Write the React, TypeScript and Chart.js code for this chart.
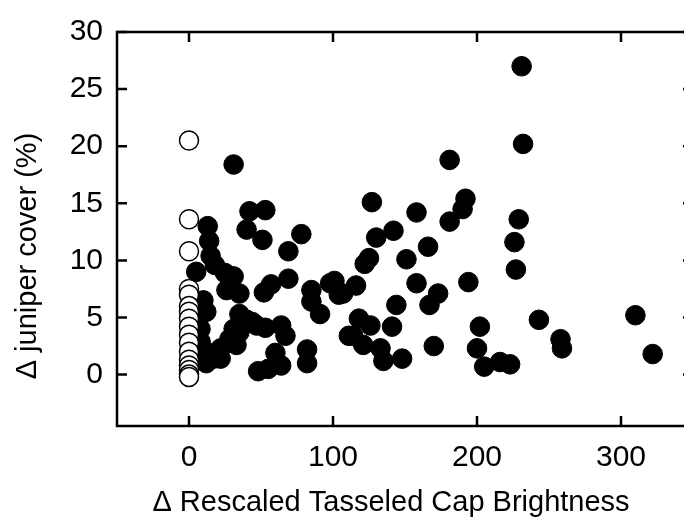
import React, { useEffect, useRef } from 'react';
import { Chart, registerables } from 'chart.js';

Chart.register(...registerables);

const xTickValues = [0, 100, 200, 300];
const yTickValues = [0, 5, 10, 15, 20, 25, 30];
const xTitle = 'Δ Rescaled Tasseled Cap Brightness';
const yTitle = 'Δ juniper cover (%)';

// open circles: no brightness change
const unchangedX = [0, 0, 0, 0, 0, 0, 0, 0, 0, 0, 0, 0, 0, 0, 0, 0, 0];
const unchangedY = [20.5, 13.6, 10.8, 7.5, 7.0, 6.0, 5.5, 4.9, 4.2, 3.5, 2.8, 2.0, 1.3, 0.8, 0.4, 0.0, -0.2];

// filled circles
const changedX = [
  5, 13, 14, 15, 18, 25, 31, 26, 35, 10, 12, 8, 8, 12, 11, 17, 22, 22, 28, 31, 33, 35, 35, 40, 44, 47, 53, 52, 57, 48, 55, 31, 42, 53, 40, 51,
  64, 67, 60, 64, 69, 69, 78, 82, 82, 85, 85, 91, 98, 101, 104, 107, 111, 114, 116, 118, 121, 122, 125, 126, 127, 130, 133, 135, 141, 142, 144, 148,
  151, 158, 158, 166, 167, 170, 173, 181, 181, 190, 192, 194, 200, 202, 205, 216, 223, 226, 227, 229, 231, 232, 243, 258, 259, 310, 322,
];
const changedY = [
  9.0, 13.0, 11.7, 10.4, 9.6, 8.9, 8.6, 7.4, 7.1, 6.5, 5.5, 4.0, 2.9, 1.0, 2.1, 1.4, 1.4, 2.3, 3.1, 4.0, 2.6, 3.7, 5.3, 4.8, 4.6, 4.3, 4.1, 7.2, 7.9, 0.3, 0.5, 18.4, 14.3, 14.4, 12.7, 11.8,
  4.3, 3.4, 1.9, 0.8, 8.4, 10.8, 12.3, 2.2, 1.0, 7.4, 6.4, 5.3, 8.0, 8.2, 7.0, 7.1, 3.4, 3.4, 7.8, 4.9, 2.6, 9.7, 10.2, 4.3, 15.1, 12.0, 2.3, 1.2, 4.2, 12.6, 6.1, 1.4,
  10.1, 14.2, 8.0, 11.2, 6.1, 2.5, 7.1, 13.4, 18.8, 14.5, 15.4, 8.1, 2.3, 4.2, 0.7, 1.1, 0.9, 11.6, 9.2, 13.6, 27.0, 20.2, 4.8, 3.1, 2.3, 5.2, 1.8,
];

const FONT = '"Liberation Sans", Arial, Helvetica, sans-serif';

const framePlugin = {
  id: 'frame',
  afterDraw(chart: any) {
    const { ctx, chartArea: a, scales } = chart;
    const xs = scales.x;
    const ys = scales.y;
    ctx.save();
    ctx.strokeStyle = '#000';
    ctx.lineWidth = 2.5;
    ctx.strokeRect(a.left, a.top, a.right - a.left, a.bottom - a.top);
    const L = 10;
    ctx.beginPath();
    xTickValues.forEach((v) => {
      const px = xs.getPixelForValue(v);
      ctx.moveTo(px, a.bottom);
      ctx.lineTo(px, a.bottom - L);
      ctx.moveTo(px, a.top);
      ctx.lineTo(px, a.top + L);
    });
    yTickValues.forEach((v) => {
      const py = ys.getPixelForValue(v);
      ctx.moveTo(a.left, py);
      ctx.lineTo(a.left + L, py);
      ctx.moveTo(a.right, py);
      ctx.lineTo(a.right - L, py);
    });
    ctx.stroke();

    ctx.fillStyle = '#000';
    ctx.font = '29px ' + FONT;
    ctx.textAlign = 'center';
    ctx.textBaseline = 'middle';
    ctx.fillText(xTitle, a.left + 274, a.bottom + 77);
    ctx.translate(28, a.top + 224);
    ctx.rotate(-Math.PI / 2);
    ctx.fillText(yTitle, 0, 0);
    ctx.restore();
  },
};

export default function App() {
  const ref = useRef<HTMLCanvasElement | null>(null);

  useEffect(() => {
    if (!ref.current) return;
    const chart = new Chart(ref.current, {
      type: 'scatter',
      data: {
        datasets: [
          {
            label: 'unchanged',
            data: unchangedX.map((x, i) => ({ x, y: unchangedY[i] })),
            backgroundColor: '#ffffff',
            borderColor: '#000000',
            borderWidth: 1.5,
            pointRadius: 9.5,
            pointHoverRadius: 9.5,
          },
          {
            label: 'changed',
            data: changedX.map((x, i) => ({ x, y: changedY[i] })),
            backgroundColor: '#000000',
            borderColor: '#000000',
            borderWidth: 1,
            pointRadius: 9.8,
            pointHoverRadius: 9.8,
          },
        ],
      },
      options: {
        animation: false,
        responsive: false,
        devicePixelRatio: 1,
        layout: { padding: { top: 24, right: 27, left: 0, bottom: 0 } },
        plugins: {
          legend: { display: false },
          tooltip: { enabled: false },
        },
        scales: {
          x: {
            type: 'linear',
            min: -50,
            max: 350,
            afterBuildTicks: (s: any) => {
              s.ticks = xTickValues.map((v) => ({ value: v }));
            },
            afterFit: (s: any) => {
              s.height = 95;
            },
            grid: { display: false, drawTicks: false },
            border: { display: false },
            ticks: {
              color: '#000',
              padding: 14,
              maxRotation: 0,
              font: { family: FONT, size: 30 },
            },
          },
          y: {
            type: 'linear',
            min: -4.5,
            max: 30,
            afterBuildTicks: (s: any) => {
              s.ticks = yTickValues.map((v) => ({ value: v }));
            },
            afterFit: (s: any) => {
              s.width = 117;
            },
            grid: { display: false, drawTicks: false },
            border: { display: false },
            ticks: {
              color: '#000',
              padding: 14,
              font: { family: FONT, size: 30 },
            },
          },
        },
      },
      plugins: [framePlugin],
    });
    return () => chart.destroy();
  }, []);

  return (
    <div style={{ position: 'absolute', left: 0, top: 0, width: 684, height: 521, overflow: 'hidden', background: '#fff' }}>
      <canvas ref={ref} width={720} height={521} style={{ width: 720, height: 521, display: 'block' }} />
    </div>
  );
}
